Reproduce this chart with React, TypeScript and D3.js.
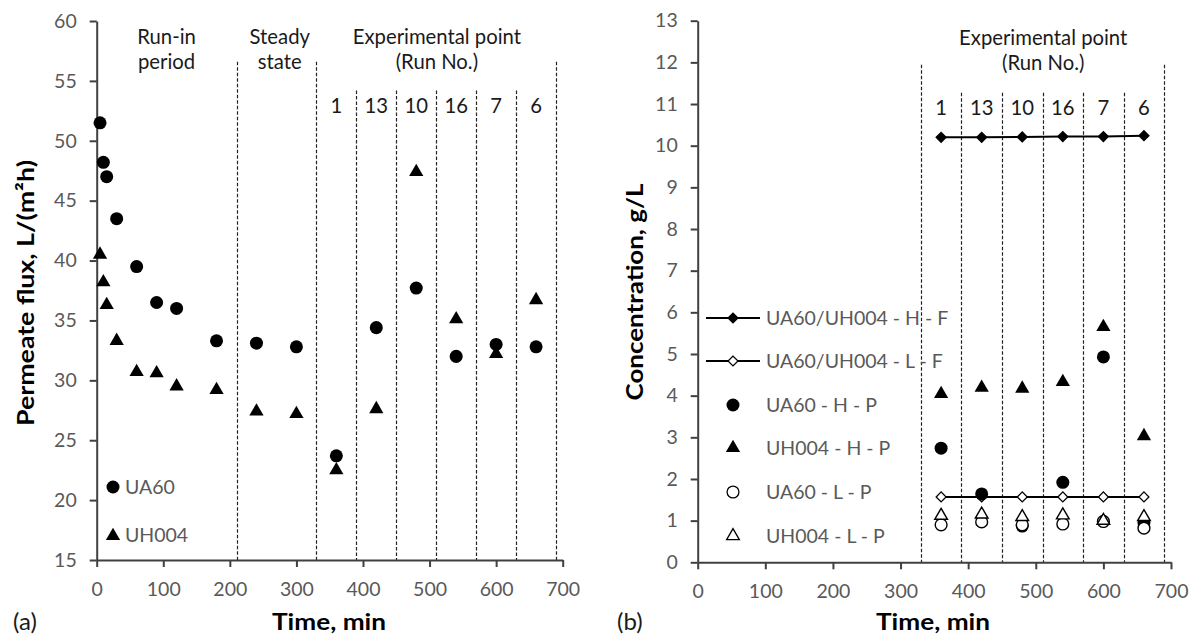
import React, { useRef, useEffect } from "react";
import * as d3 from "d3";

const W = 1198;
const H = 640;

// (a) permeate flux vs time
const fluxTime = [5, 10, 15, 30, 60, 90, 120, 180, 240, 300, 360, 420, 480, 540, 600, 660];
const ua60Flux = [51.5, 48.2, 47.0, 43.5, 39.5, 36.5, 36.0, 33.3, 33.1, 32.8, 23.7, 34.4, 37.7, 32.0, 33.0, 32.8];
const uh004Flux = [40.5, 38.2, 36.3, 33.3, 30.7, 30.6, 29.5, 29.2, 27.4, 27.2, 22.5, 27.6, 47.4, 35.1, 32.2, 36.7];

// experimental runs
const runTime = [360, 420, 480, 540, 600, 660];
const runNo = ["1", "13", "10", "16", "7", "6"];
const runEdges = [330, 390, 450, 510, 570, 630, 690];

// (b) concentrations
const feedH = [10.2, 10.2, 10.21, 10.22, 10.22, 10.24];
const feedL = [1.57, 1.57, 1.57, 1.57, 1.57, 1.57];
const ua60HP = [2.74, 1.64, 0.87, 1.92, 4.93, 0.95];
const uh004HP = [4.04, 4.19, 4.17, 4.33, 5.65, 3.03];
const ua60LP = [0.9, 0.97, 0.9, 0.92, 0.98, 0.82];
const uh004LP = [1.12, 1.15, 1.09, 1.13, 1.0, 1.09];

const xTicks = [0, 100, 200, 300, 400, 500, 600, 700];
const fluxTicks = [15, 20, 25, 30, 35, 40, 45, 50, 55, 60];
const concTicks = [0, 1, 2, 3, 4, 5, 6, 7, 8, 9, 10, 11, 12, 13];

const FONT = "Lato, 'Open Sans', sans-serif";
const AXIS = "#404040";
const TICKTXT = "#595959";
const TXT = "#1a1a1a";

const circle = d3.symbol(d3.symbolCircle, 133)();
const circleSm = d3.symbol(d3.symbolCircle, 110)();
const tri = d3.symbol(d3.symbolTriangle, 88)();
const triSm = d3.symbol(d3.symbolTriangle, 70)();
const diamond = d3.symbol(d3.symbolSquare, 49)();

export default function App() {
  const ref = useRef<SVGSVGElement>(null);

  useEffect(() => {
    const svg = d3.select(ref.current);
    svg.selectAll("*").remove();

    const axes = (x: any, y: any, yt: number[]) => {
      const gx = svg
        .append("g")
        .attr("transform", `translate(0,${y.range()[0]})`)
        .call(d3.axisBottom(x).tickValues(xTicks).tickSize(7).tickSizeOuter(0).tickPadding(15));
      const gy = svg
        .append("g")
        .attr("transform", `translate(${x.range()[0]},0)`)
        .call(d3.axisLeft(y).tickValues(yt).tickSize(7).tickSizeOuter(0).tickPadding(13));
      [gx, gy].forEach((g) => {
        g.select(".domain").attr("stroke", AXIS).attr("stroke-width", 2);
        g.selectAll(".tick line").attr("stroke", AXIS).attr("stroke-width", 2);
        g.selectAll(".tick text")
          .attr("fill", TICKTXT)
          .style("font-family", FONT)
          .style("font-size", "19.5px");
      });
    };

    const txt = (x: number, y: number, s: string, opts: any = {}) =>
      svg
        .append("text")
        .attr("x", x)
        .attr("y", y)
        .attr("text-anchor", opts.anchor || "middle")
        .attr("fill", opts.fill || TXT)
        .style("font-family", FONT)
        .style("font-size", (opts.size || 20.3) + "px")
        .style("font-weight", opts.bold ? "bold" : "normal")
        .text(s);

    const title = (tx: number, ty: number, rot: boolean, s: string, len: number) =>
      svg
        .append("text")
        .attr("transform", `translate(${tx},${ty})${rot ? " rotate(-90)" : ""}`)
        .attr("text-anchor", "middle")
        .attr("fill", "#000")
        .attr("textLength", len)
        .attr("lengthAdjust", "spacingAndGlyphs")
        .style("font-family", FONT)
        .style("font-size", "23.5px")
        .style("font-weight", "bold")
        .text(s);

    const dashes = (x: any, y: any, tallTop: number, shortTop: number, edges: number[], tall: number[]) => {
      svg
        .append("g")
        .selectAll("line")
        .data(edges)
        .join("line")
        .attr("x1", (d) => Math.round(x(d)) + 0.5)
        .attr("x2", (d) => Math.round(x(d)) + 0.5)
        .attr("y1", (d) => y(tall.includes(d) ? tallTop : shortTop))
        .attr("y2", y.range()[0])
        .attr("stroke", "#222")
        .attr("stroke-width", 1.2)
        .attr("stroke-dasharray", "3.5,2");
    };

    const marks = (x: any, y: any, xs: number[], ys: number[], path: string, filled: boolean) => {
      svg
        .append("g")
        .selectAll("path")
        .data(ys)
        .join("path")
        .attr("d", path)
        .attr("transform", (d, i) => `translate(${x(xs[i])},${y(d)})`)
        .attr("fill", filled ? "#000" : "#fff")
        .attr("stroke", "#000")
        .attr("stroke-width", filled ? 0 : 1.4);
    };

    // ---------- (a) ----------
    const xA = d3.scaleLinear().domain([0, 700]).range([96.7, 562.7]);
    const yA = d3.scaleLinear().domain([15, 60]).range([560, 21]);

    dashes(xA, yA, 56.6, 54.2, [210, ...runEdges], [210, 330, 690]);
    axes(xA, yA, fluxTicks);

    txt(xA(105), 44, "Run-in");
    txt(xA(105), 69, "period");
    txt(xA(275), 44, "Steady");
    txt(xA(275), 69, "state");
    txt(xA(511), 44, "Experimental point");
    txt(xA(511), 69, "(Run No.)");
    runTime.forEach((t, i) => txt(xA(t), 113, runNo[i]));

    marks(xA, yA, fluxTime, ua60Flux, circle, true);
    marks(xA, yA, fluxTime, uh004Flux, tri, true);

    // legend (a)
    svg.append("path").attr("d", circle).attr("transform", "translate(113,487)");
    txt(125, 494, "UA60", { anchor: "start", fill: TICKTXT, size: 19.5 });
    svg.append("path").attr("d", tri).attr("transform", "translate(113,536)");
    txt(125, 542, "UH004", { anchor: "start", fill: TICKTXT, size: 19.5 });

    title(329, 630, false, "Time, min", 114);
    title(34, 293, true, "Permeate flux, L/(m²h)", 266);
    txt(13, 630, "(a)", { anchor: "start", size: 24 });

    // ---------- (b) ----------
    const xB = d3.scaleLinear().domain([0, 700]).range([697.7, 1171]);
    const yB = d3.scaleLinear().domain([0, 13]).range([562.3, 20.7]);

    dashes(xB, yB, 11.94, 11.27, runEdges, [330, 690]);
    axes(xB, yB, concTicks);

    txt(xB(511), 45, "Experimental point");
    txt(xB(511), 70, "(Run No.)");
    runTime.forEach((t, i) => txt(xB(t), 115, runNo[i]));

    const line = (vals: number[]) =>
      d3
        .line<number>()
        .x((d, i) => xB(runTime[i]))
        .y((d) => yB(d))(vals);

    [feedH, feedL].forEach((vals, k) => {
      svg.append("path").attr("d", line(vals)).attr("fill", "none").attr("stroke", "#000").attr("stroke-width", 2);
      svg
        .append("g")
        .selectAll("path")
        .data(vals)
        .join("path")
        .attr("d", diamond)
        .attr("transform", (d, i) => `translate(${xB(runTime[i])},${yB(d)}) rotate(45)`)
        .attr("fill", k === 0 ? "#000" : "#fff")
        .attr("stroke", "#000")
        .attr("stroke-width", 1.3);
    });

    marks(xB, yB, runTime, ua60HP, circle, true);
    marks(xB, yB, runTime, uh004HP, tri, true);
    marks(xB, yB, runTime, ua60LP, circleSm, false);
    marks(xB, yB, runTime, uh004LP, triSm, false);

    // legend (b)
    const legY = [318, 361, 405, 448, 492, 536];
    const legs = [
      { label: "UA60/UH004 - H - F", line: true, path: diamond, fill: true },
      { label: "UA60/UH004 - L - F", line: true, path: diamond, fill: false },
      { label: "UA60 - H - P", line: false, path: circle, fill: true },
      { label: "UH004 - H - P", line: false, path: tri, fill: true },
      { label: "UA60 - L - P", line: false, path: circleSm, fill: false },
      { label: "UH004 - L - P", line: false, path: triSm, fill: false },
    ];
    legs.forEach((l, i) => {
      const y = legY[i];
      if (l.line) {
        svg.append("line").attr("x1", 706).attr("x2", 760).attr("y1", y).attr("y2", y).attr("stroke", "#000").attr("stroke-width", 2);
      }
      svg
        .append("path")
        .attr("d", l.path)
        .attr("transform", `translate(733,${y})${l.line ? " rotate(45)" : ""}`)
        .attr("fill", l.fill ? "#000" : "#fff")
        .attr("stroke", "#000")
        .attr("stroke-width", l.fill && !l.line ? 0 : 1.3);
      txt(766, y + 7, l.label, { anchor: "start", fill: TICKTXT, size: 19.5 });
    });

    title(933, 630, false, "Time, min", 114);
    title(643, 292, true, "Concentration, g/L", 217);
    txt(617, 630, "(b)", { anchor: "start", size: 24 });
  }, []);

  return (
    <svg
      ref={ref}
      width={W}
      height={H}
      style={{ position: "absolute", left: 0, top: 0, background: "#fff" }}
    />
  );
}
